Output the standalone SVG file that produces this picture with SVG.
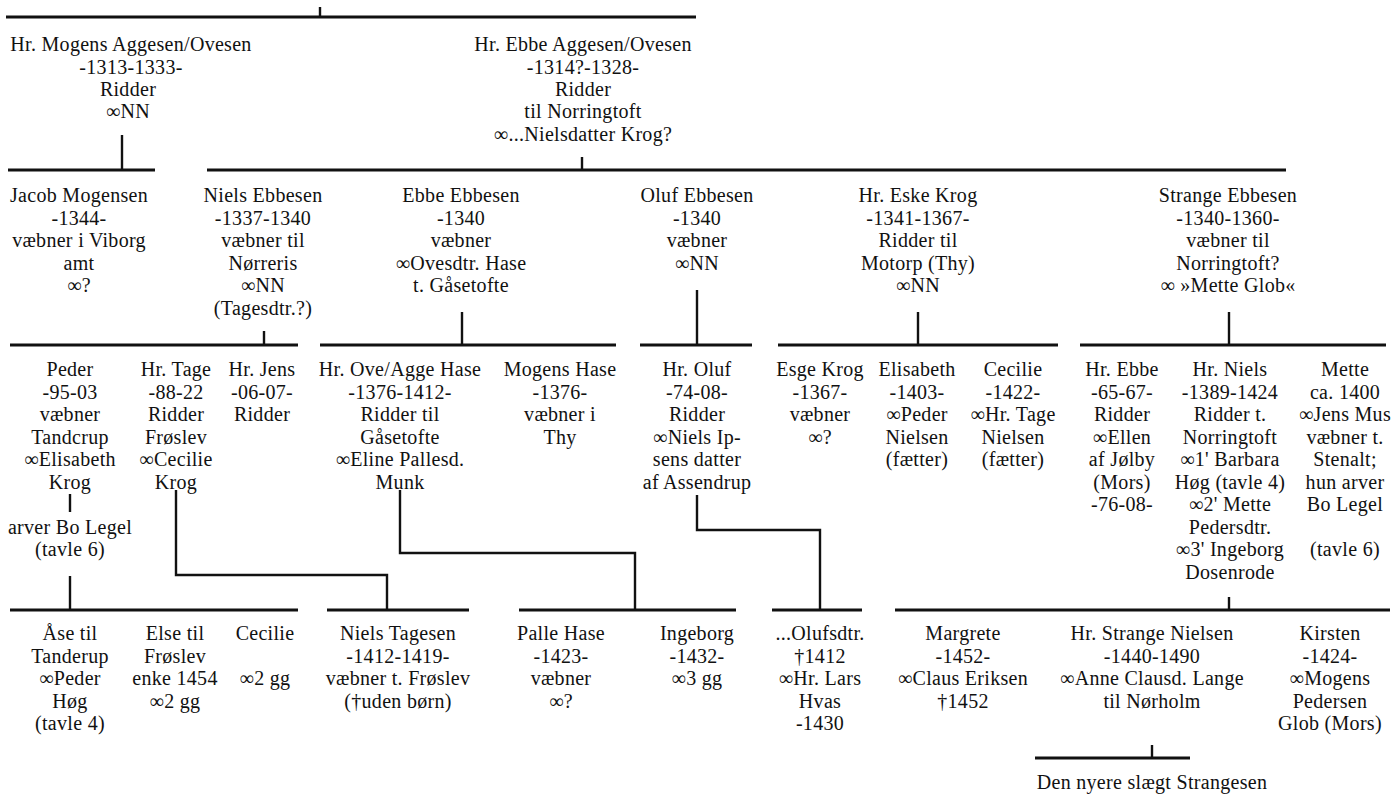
<svg xmlns="http://www.w3.org/2000/svg" width="1393" height="795" viewBox="0 0 1393 795">
<style>
text{font-family:"Liberation Serif","Times New Roman",serif;font-size:20px;fill:#111;text-anchor:middle;letter-spacing:0.3px}
.h{stroke:#111;stroke-width:3.2;fill:none}
.v{stroke:#111;stroke-width:2.4;fill:none}
</style>
<rect width="1393" height="795" fill="#fff"/>
<g id="connectors">
<path class="v" d="M320 7V17"/>
<path class="h" d="M6 17H696"/>
<path class="v" d="M122 135V170"/>
<path class="h" d="M8 170H155"/>
<path class="v" d="M582 157V170"/>
<path class="h" d="M207 170H1286"/>
<path class="v" d="M264 331V345"/>
<path class="h" d="M10 345H298"/>
<path class="v" d="M462 312V345"/>
<path class="h" d="M320 345H616"/>
<path class="v" d="M697 290V345"/>
<path class="h" d="M640 345H752"/>
<path class="v" d="M918 312V345"/>
<path class="h" d="M778 345H1058"/>
<path class="v" d="M1229 312V345"/>
<path class="h" d="M1080 345H1386"/>
<path class="v" d="M70 494V512"/>
<path class="v" d="M70 576V610"/>
<path class="h" d="M10 610H298"/>
<path class="v" d="M176 490V575H387V610"/>
<path class="h" d="M327 610H469"/>
<path class="v" d="M400 490V553H635V610"/>
<path class="h" d="M519 610H736"/>
<path class="v" d="M697 495V530H820V610"/>
<path class="h" d="M772 610H862"/>
<path class="v" d="M1229 597V610"/>
<path class="h" d="M895 610H1390"/>
<path class="v" d="M1152 745V758"/>
<path class="h" d="M1035 758H1190"/>
</g>
<g id="mogens_aggesen"><text x="131" y="51">Hr. Mogens Aggesen/Ovesen</text><text x="131" y="74">-1313-1333-</text><text x="128" y="96">Ridder</text><text x="128" y="118">∞NN</text></g>
<g id="ebbe_aggesen"><text x="583" y="51">Hr. Ebbe Aggesen/Ovesen</text><text x="583" y="74">-1314?-1328-</text><text x="583" y="96">Ridder</text><text x="583" y="118">til Norringtoft</text><text x="583" y="141">∞...Nielsdatter Krog?</text></g>
<g id="jacob_mogensen"><text x="79" y="202">Jacob Mogensen</text><text x="79" y="224.5">-1344-</text><text x="79" y="247">væbner i Viborg</text><text x="79" y="269.5">amt</text><text x="79" y="292">∞?</text></g>
<g id="niels_ebbesen"><text x="263" y="202">Niels Ebbesen</text><text x="263" y="224.5">-1337-1340</text><text x="263" y="247">væbner til</text><text x="263" y="269.5">Nørreris</text><text x="263" y="292">∞NN</text><text x="263" y="314.5">(Tagesdtr.?)</text></g>
<g id="ebbe_ebbesen"><text x="461" y="202">Ebbe Ebbesen</text><text x="461" y="224.5">-1340</text><text x="461" y="247">væbner</text><text x="461" y="269.5">∞Ovesdtr. Hase</text><text x="461" y="292">t. Gåsetofte</text></g>
<g id="oluf_ebbesen"><text x="697" y="202">Oluf Ebbesen</text><text x="697" y="224.5">-1340</text><text x="697" y="247">væbner</text><text x="697" y="269.5">∞NN</text></g>
<g id="eske_krog"><text x="918" y="202">Hr. Eske Krog</text><text x="918" y="224.5">-1341-1367-</text><text x="918" y="247">Ridder til</text><text x="918" y="269.5">Motorp (Thy)</text><text x="918" y="292">∞NN</text></g>
<g id="strange_ebbesen"><text x="1228" y="202">Strange Ebbesen</text><text x="1228" y="224.5">-1340-1360-</text><text x="1228" y="247">væbner til</text><text x="1228" y="269.5">Norringtoft?</text><text x="1228" y="292">∞ »Mette Glob«</text></g>
<g id="peder"><text x="70" y="376">Peder</text><text x="70" y="398.5">-95-03</text><text x="70" y="421">væbner</text><text x="70" y="443.5">Tandcrup</text><text x="70" y="466">∞Elisabeth</text><text x="70" y="488.5">Krog</text><text x="70" y="533.5">arver Bo Legel</text><text x="70" y="556">(tavle 6)</text></g>
<g id="tage"><text x="176" y="376">Hr. Tage</text><text x="176" y="398.5">-88-22</text><text x="176" y="421">Ridder</text><text x="176" y="443.5">Frøslev</text><text x="176" y="466">∞Cecilie</text><text x="176" y="488.5">Krog</text></g>
<g id="jens"><text x="262" y="376">Hr. Jens</text><text x="262" y="398.5">-06-07-</text><text x="262" y="421">Ridder</text></g>
<g id="ove_hase"><text x="400" y="376">Hr. Ove/Agge Hase</text><text x="400" y="398.5">-1376-1412-</text><text x="400" y="421">Ridder til</text><text x="400" y="443.5">Gåsetofte</text><text x="400" y="466">∞Eline Pallesd.</text><text x="400" y="488.5">Munk</text></g>
<g id="mogens_hase"><text x="560" y="376">Mogens Hase</text><text x="560" y="398.5">-1376-</text><text x="560" y="421">væbner i</text><text x="560" y="443.5">Thy</text></g>
<g id="hr_oluf"><text x="697" y="376">Hr. Oluf</text><text x="697" y="398.5">-74-08-</text><text x="697" y="421">Ridder</text><text x="697" y="443.5">∞Niels Ip-</text><text x="697" y="466">sens datter</text><text x="697" y="488.5">af Assendrup</text></g>
<g id="esge_krog"><text x="820" y="376">Esge Krog</text><text x="820" y="398.5">-1367-</text><text x="820" y="421">væbner</text><text x="820" y="443.5">∞?</text></g>
<g id="elisabeth"><text x="917" y="376">Elisabeth</text><text x="917" y="398.5">-1403-</text><text x="917" y="421">∞Peder</text><text x="917" y="443.5">Nielsen</text><text x="917" y="466">(fætter)</text></g>
<g id="cecilie_krog"><text x="1013" y="376">Cecilie</text><text x="1013" y="398.5">-1422-</text><text x="1013" y="421">∞Hr. Tage</text><text x="1013" y="443.5">Nielsen</text><text x="1013" y="466">(fætter)</text></g>
<g id="hr_ebbe"><text x="1122" y="376">Hr. Ebbe</text><text x="1122" y="398.5">-65-67-</text><text x="1122" y="421">Ridder</text><text x="1122" y="443.5">∞Ellen</text><text x="1122" y="466">af Jølby</text><text x="1122" y="488.5">(Mors)</text><text x="1122" y="511">-76-08-</text></g>
<g id="hr_niels"><text x="1230" y="376">Hr. Niels</text><text x="1230" y="398.5">-1389-1424</text><text x="1230" y="421">Ridder t.</text><text x="1230" y="443.5">Norringtoft</text><text x="1230" y="466">∞1' Barbara</text><text x="1230" y="488.5">Høg (tavle 4)</text><text x="1230" y="511">∞2' Mette</text><text x="1230" y="533.5">Pedersdtr.</text><text x="1230" y="556">∞3' Ingeborg</text><text x="1230" y="578.5">Dosenrode</text></g>
<g id="mette"><text x="1345" y="376">Mette</text><text x="1345" y="398.5">ca. 1400</text><text x="1345" y="421">∞Jens Mus</text><text x="1345" y="443.5">væbner t.</text><text x="1345" y="466">Stenalt;</text><text x="1345" y="488.5">hun arver</text><text x="1345" y="511">Bo Legel</text><text x="1345" y="556">(tavle 6)</text></g>
<g id="aase"><text x="70" y="640">Åse til</text><text x="70" y="662.5">Tanderup</text><text x="70" y="685">∞Peder</text><text x="70" y="707.5">Høg</text><text x="70" y="730">(tavle 4)</text></g>
<g id="else"><text x="175" y="640">Else til</text><text x="175" y="662.5">Frøslev</text><text x="175" y="685">enke 1454</text><text x="175" y="707.5">∞2 gg</text></g>
<g id="cecilie_tage"><text x="265" y="640">Cecilie</text><text x="265" y="685">∞2 gg</text></g>
<g id="niels_tagesen"><text x="398" y="640">Niels Tagesen</text><text x="398" y="662.5">-1412-1419-</text><text x="398" y="685">væbner t. Frøslev</text><text x="398" y="707.5">(†uden børn)</text></g>
<g id="palle_hase"><text x="561" y="640">Palle Hase</text><text x="561" y="662.5">-1423-</text><text x="561" y="685">væbner</text><text x="561" y="707.5">∞?</text></g>
<g id="ingeborg"><text x="697" y="640">Ingeborg</text><text x="697" y="662.5">-1432-</text><text x="697" y="685">∞3 gg</text></g>
<g id="olufsdtr"><text x="820" y="640">...Olufsdtr.</text><text x="820" y="662.5">†1412</text><text x="820" y="685">∞Hr. Lars</text><text x="820" y="707.5">Hvas</text><text x="820" y="730">-1430</text></g>
<g id="margrete"><text x="963" y="640">Margrete</text><text x="963" y="662.5">-1452-</text><text x="963" y="685">∞Claus Eriksen</text><text x="963" y="707.5">†1452</text></g>
<g id="strange_nielsen"><text x="1152" y="640">Hr. Strange Nielsen</text><text x="1152" y="662.5">-1440-1490</text><text x="1152" y="685">∞Anne Clausd. Lange</text><text x="1152" y="707.5">til Nørholm</text></g>
<g id="kirsten"><text x="1330" y="640">Kirsten</text><text x="1330" y="662.5">-1424-</text><text x="1330" y="685">∞Mogens</text><text x="1330" y="707.5">Pedersen</text><text x="1330" y="730">Glob (Mors)</text></g>
<g id="strangesen"><text x="1152" y="789">Den nyere slægt Strangesen</text></g>
</svg>
